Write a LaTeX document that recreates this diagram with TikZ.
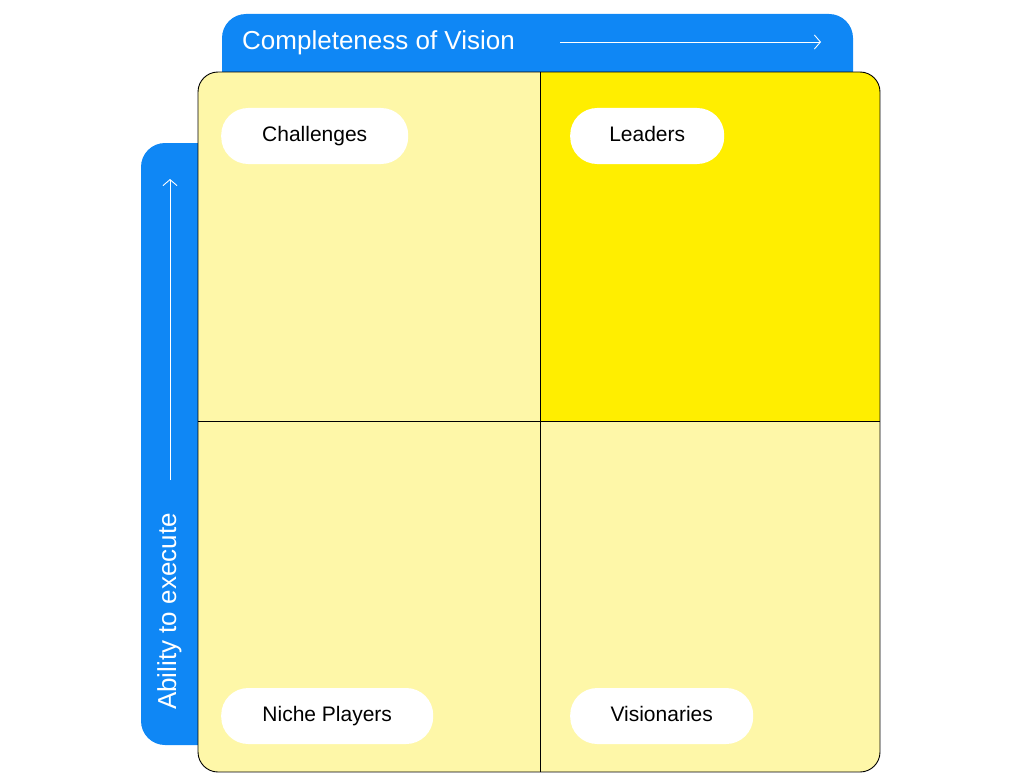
\documentclass[tikz,border=0pt]{standalone}
\usepackage{fontspec}
\setmainfont{Liberation Sans}
\usetikzlibrary{arrows.meta}
\definecolor{tabblue}{HTML}{0F87F5}
\definecolor{lighty}{HTML}{FEF7A8}
\definecolor{brighty}{HTML}{FFEE00}
\tikzset{
  pill/.style={fill=white,rounded corners=27pt,minimum height=56pt,anchor=west,font=\fontsize{21}{25}\selectfont,inner xsep=0pt,text height=15pt,text depth=4pt},
  axislabel/.style={text=white,font=\fontsize{26}{30}\selectfont,inner sep=0pt,text height=19pt,text depth=5pt},
  axisarrow/.style={white,line width=0.9pt,-{Straight Barb[length=6pt,width=14pt]}}
}
\begin{document}
\begin{tikzpicture}[x=1pt,y=-1pt]
\useasboundingbox (0,0) rectangle (1024,773);
% tabs
\fill[tabblue,rounded corners=24pt] (222,100) -- (222,14) -- (853,14) -- (853,100) -- cycle;
\fill[tabblue,rounded corners=24pt] (230,143) -- (141,143) -- (141,745) -- (230,745) -- cycle;
% quadrants
\begin{scope}
\clip[rounded corners=20pt] (198,72) rectangle (880,772);
\fill[lighty] (198,72) rectangle (880,772);
\fill[brighty] (540,72) rectangle (880,421);
\end{scope}
\draw[line width=0.9pt,rounded corners=20pt] (198,72) rectangle (880,772);
\coordinate (mt) at (540,72); \coordinate (mb) at (540,772);
\coordinate (ml) at (198,421); \coordinate (mr) at (880,421);
\draw[line width=0.9pt] (mt) -- (mb);
\draw[line width=0.9pt] (ml) -- (mr);
% axis labels
\node[axislabel,anchor=west] (cv) at (242,43) {Completeness of Vision};
\coordinate (cva) at (560,42); \coordinate (cvb) at (821,42);
\draw[axisarrow] (cva) -- (cvb);
\node[axislabel,anchor=west,rotate=90] (ae) at (169,710) {Ability to execute};
\coordinate (aea) at (170,480); \coordinate (aeb) at (170,179);
\draw[axisarrow] (aea) -- (aeb);
% pills
\node[pill,minimum width=187pt] (ch) at (221,136) {Challenges};
\node[pill,minimum width=154pt] (le) at (570,136) {Leaders};
\node[pill,minimum width=212pt] (np) at (221,716) {Niche Players};
\node[pill,minimum width=183pt] (vi) at (570,716) {Visionaries};
\end{tikzpicture}
\end{document}
